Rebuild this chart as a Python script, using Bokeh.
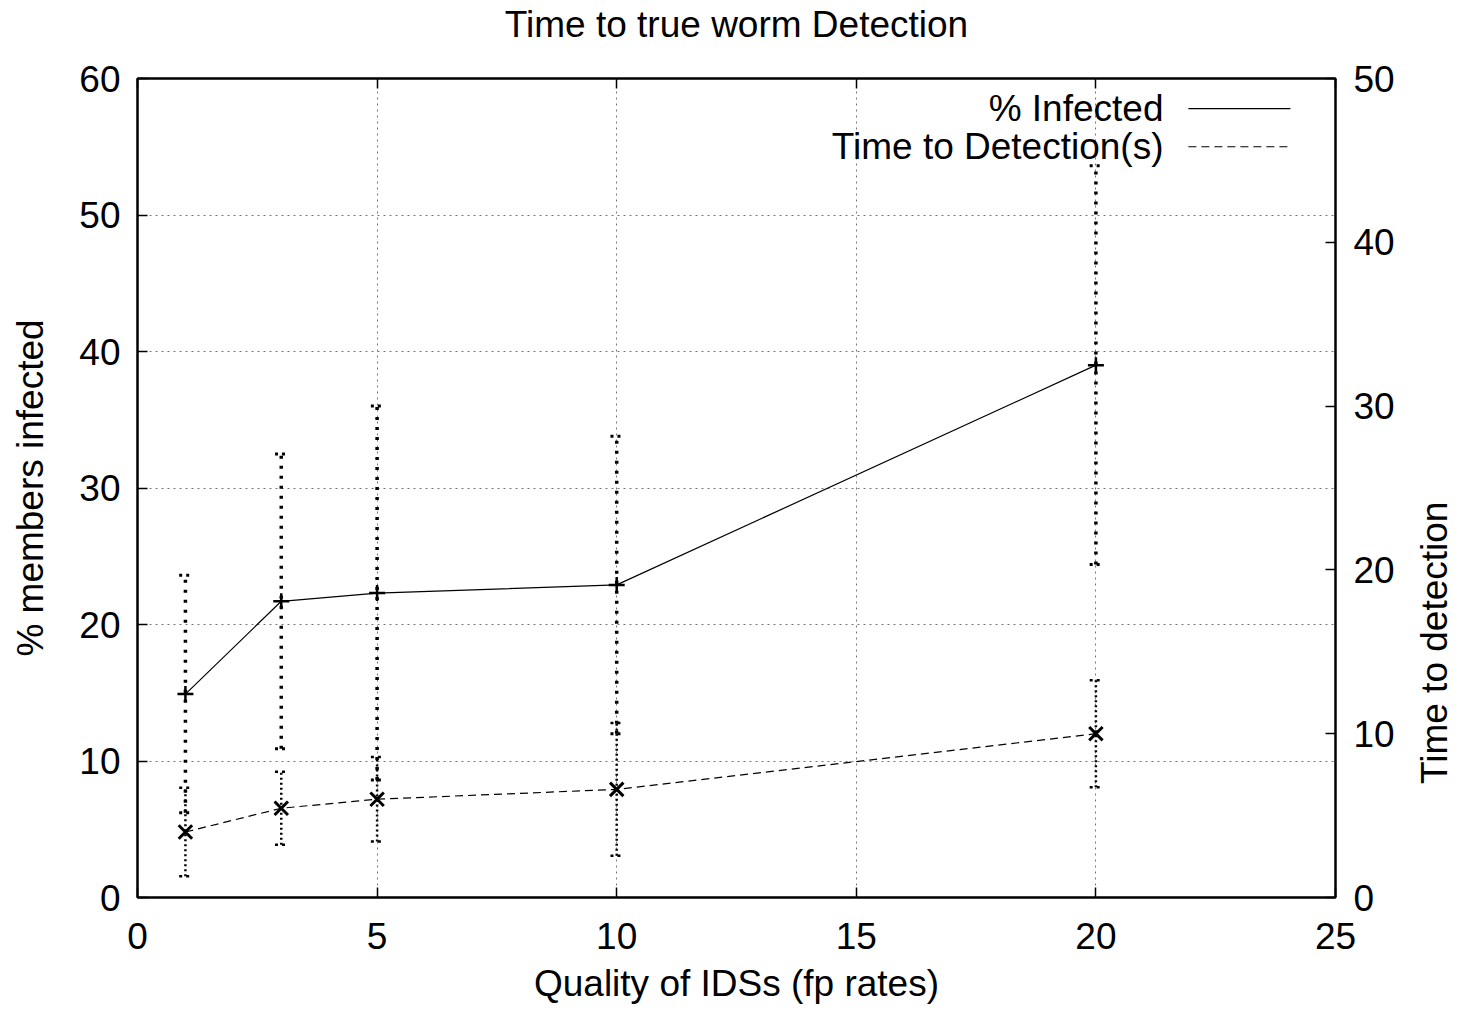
import math
from bokeh.plotting import figure
from bokeh.layouts import row
from bokeh.models import (Range1d, LinearAxis, FixedTicker, Label, Spacer,
                          CustomJSTickFormatter)
from bokeh.embed import file_html
from bokeh.resources import INLINE

# ---- data ----
fp_rates = [1, 3, 5, 10, 20]
infected = [14.9, 21.7, 22.3, 22.9, 39.0]
infected_err = [8.7, 10.8, 13.7, 10.9, 14.6]
detect_time = [4.0, 5.45, 6.0, 6.6, 10.0]
detect_err = [2.7, 2.23, 2.58, 4.05, 3.27]

x_ticks = [0, 5, 10, 15, 20, 25]
y_ticks = [0, 10, 20, 30, 40, 50, 60]
y2_ticks = [0, 10, 20, 30, 40, 50]

TITLE = "Time to true worm Detection"
X_LABEL = "Quality of IDSs (fp rates)"
Y_LABEL = "% members infected"
Y2_LABEL = "Time to detection"

FONT = "Liberation Sans"
FS = "37px"

p = figure(frame_width=1198, frame_height=819,
           min_border_left=122, min_border_right=60,
           min_border_top=70, min_border_bottom=108,
           x_range=Range1d(0, 25), y_range=Range1d(0, 60),
           output_backend="svg", toolbar_location=None)
p.extra_y_ranges = {"y2": Range1d(0, 50)}

p.outline_line_color = "black"
p.outline_line_width = 2
p.background_fill_color = "white"
p.border_fill_color = "white"

def style_axis(ax):
    ax.axis_line_color = "black"
    ax.axis_line_width = 2
    ax.major_tick_in = 10
    ax.major_tick_out = 0
    ax.major_tick_line_color = "black"
    ax.major_tick_line_width = 1.5
    ax.minor_tick_line_color = None
    ax.major_label_text_font = FONT
    ax.major_label_text_font_size = FS
    ax.major_label_text_color = "black"
    ax.axis_label_text_font = FONT
    ax.axis_label_text_font_size = FS
    ax.axis_label_text_font_style = "normal"
    ax.axis_label_text_color = "black"

xa = p.xaxis[0]
xa.ticker = FixedTicker(ticks=x_ticks)
xa.axis_label = X_LABEL
style_axis(xa)
xa.major_label_standoff = 25
xa.axis_label_standoff = 11

ya = p.yaxis[0]
ya.ticker = FixedTicker(ticks=y_ticks)
ya.axis_label = Y_LABEL
style_axis(ya)
ya.major_label_standoff = 17
ya.axis_label_standoff = 25

y2 = LinearAxis(y_range_name="y2", ticker=FixedTicker(ticks=y2_ticks))
style_axis(y2)
y2.major_label_standoff = 18
p.add_layout(y2, "right")

# mirrored top ticks; the chart title sits above them
top = LinearAxis(ticker=FixedTicker(ticks=x_ticks),
                 formatter=CustomJSTickFormatter(code="return ''"))
style_axis(top)
top.major_label_standoff = 0
top.axis_label = TITLE
top.axis_label_standoff = 34
p.add_layout(top, "above")

for g in (p.xgrid[0], p.ygrid[0]):
    g.grid_line_color = "#777777"
    g.grid_line_dash = "2 4"
    g.grid_line_width = 1

# ---- error bars ----
cap_hw = 0.13
lo1 = [v - e for v, e in zip(infected, infected_err)]
hi1 = [v + e for v, e in zip(infected, infected_err)]
lo2 = [v - e for v, e in zip(detect_time, detect_err)]
hi2 = [v + e for v, e in zip(detect_time, detect_err)]

p.segment(x0=fp_rates, y0=lo1, x1=fp_rates, y1=hi1, line_color="black",
          line_width=3.5, line_dash="3 7")
for ys in (lo1, hi1):
    p.segment(x0=[x - cap_hw for x in fp_rates], y0=ys,
              x1=[x + cap_hw for x in fp_rates], y1=ys,
              line_color="black", line_width=3, line_dash="3 4")

p.segment(x0=fp_rates, y0=lo2, x1=fp_rates, y1=hi2, line_color="black",
          line_width=2.5, line_dash="2 3", y_range_name="y2")
for ys in (lo2, hi2):
    p.segment(x0=[x - cap_hw for x in fp_rates], y0=ys,
              x1=[x + cap_hw for x in fp_rates], y1=ys,
              line_color="black", line_width=2.5, line_dash="3 4",
              y_range_name="y2")

# ---- lines and markers ----
p.line(fp_rates, infected, line_color="black", line_width=1.2)
p.scatter(fp_rates, infected, marker="cross", size=16, line_color="black",
          line_width=2.5)

p.line(fp_rates, detect_time, line_color="black", line_width=1.2,
       line_dash="8 5", y_range_name="y2")
p.scatter(fp_rates, detect_time, marker="x", size=19, line_color="black",
          line_width=3, y_range_name="y2")

# ---- legend (gnuplot style: text then sample) ----
leg_names = ["% Infected", "Time to Detection(s)"]
leg_y = [57.8, 55.0]
leg_dash = ["solid", "8 5"]
for name, yy, dash in zip(leg_names, leg_y, leg_dash):
    p.add_layout(Label(x=21.41, y=yy, text=name, text_align="right",
                       text_baseline="middle", text_font=FONT,
                       text_font_size=FS, text_color="black"))
    p.line([21.93, 24.06], [yy, yy], line_color="black", line_width=1.2,
           line_dash=dash)

# ---- right-hand axis title (gnuplot places it below centre) ----
p2 = figure(width=59, height=997, x_range=Range1d(0, 1), y_range=Range1d(0, 60),
            min_border_left=0, min_border_right=0,
            min_border_top=70, min_border_bottom=108,
            x_axis_type=None, y_axis_type=None,
            output_backend="svg", toolbar_location=None)
p2.outline_line_color = None
p2.grid.visible = False
p2.background_fill_color = "white"
p2.border_fill_color = "white"
p2.add_layout(Label(x=0.627, y=18.2, text=Y2_LABEL, angle=math.pi / 2,
                    text_align="center", text_baseline="middle",
                    text_font=FONT, text_font_size=FS, text_color="black"))

layout = row(Spacer(width=7, height=997), p, p2, spacing=0)
open("out.html", "w").write(file_html(layout, INLINE))
